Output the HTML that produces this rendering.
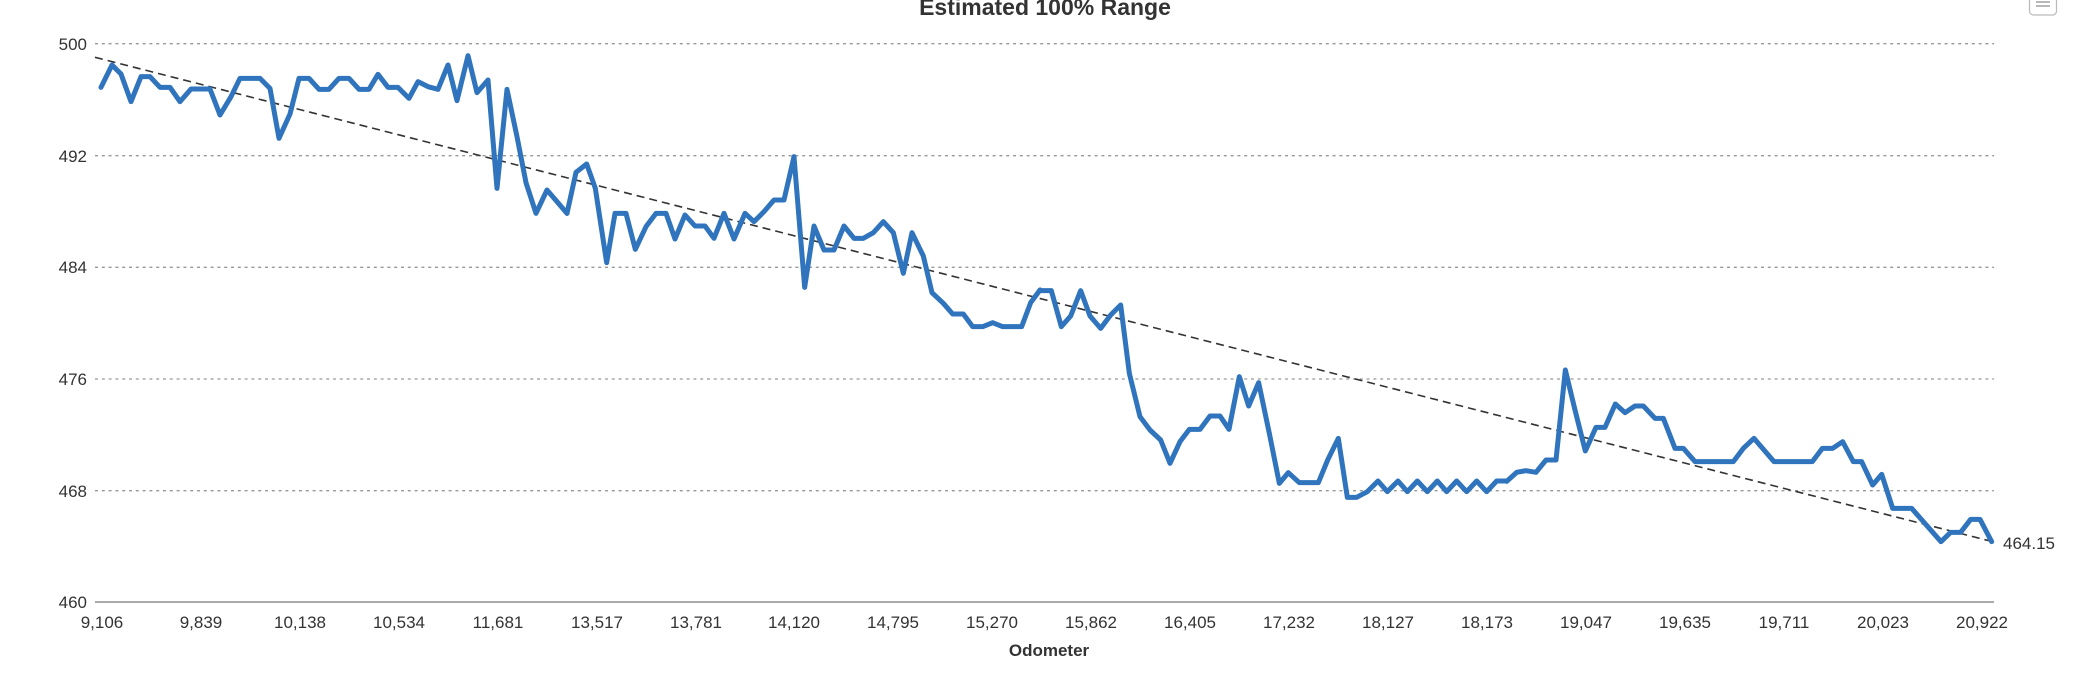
<!DOCTYPE html>
<html><head><meta charset="utf-8"><style>
html,body{margin:0;padding:0;background:#fff;}
svg{display:block;font-family:"Liberation Sans",sans-serif;}
</style></head><body>
<svg width="2098" height="676" viewBox="0 0 2098 676" xmlns="http://www.w3.org/2000/svg">
<rect width="2098" height="676" fill="#fff"/>
<text x="1045" y="15" text-anchor="middle" font-size="23" font-weight="bold" fill="#333">Estimated 100% Range</text>
<rect x="2029.5" y="-6" width="27" height="21" rx="4" fill="#fff" stroke="#bbb" stroke-width="1.2"/>
<line x1="2036" y1="2" x2="2050" y2="2" stroke="#888" stroke-width="1.2"/>
<line x1="2036" y1="6" x2="2050" y2="6" stroke="#888" stroke-width="1.2"/>
<g stroke="#999" stroke-width="1.3" stroke-dasharray="3,3.8">
<line x1="95" y1="43.7" x2="1994" y2="43.7"/>
<line x1="95" y1="155.7" x2="1994" y2="155.7"/>
<line x1="95" y1="267.3" x2="1994" y2="267.3"/>
<line x1="95" y1="379" x2="1994" y2="379"/>
<line x1="95" y1="490.7" x2="1994" y2="490.7"/>
</g>
<line x1="95" y1="602" x2="1994" y2="602" stroke="#aaa" stroke-width="2"/>
<g font-size="17" fill="#333" text-anchor="end">
<text x="87" y="50">500</text>
<text x="87" y="162">492</text>
<text x="87" y="273">484</text>
<text x="87" y="385">476</text>
<text x="87" y="497">468</text>
<text x="87" y="608">460</text>
</g>
<g font-size="17" fill="#333" text-anchor="middle">
<text x="102" y="628">9,106</text>
<text x="201" y="628">9,839</text>
<text x="300" y="628">10,138</text>
<text x="399" y="628">10,534</text>
<text x="498" y="628">11,681</text>
<text x="597" y="628">13,517</text>
<text x="696" y="628">13,781</text>
<text x="794" y="628">14,120</text>
<text x="893" y="628">14,795</text>
<text x="992" y="628">15,270</text>
<text x="1091" y="628">15,862</text>
<text x="1190" y="628">16,405</text>
<text x="1289" y="628">17,232</text>
<text x="1388" y="628">18,127</text>
<text x="1487" y="628">18,173</text>
<text x="1586" y="628">19,047</text>
<text x="1685" y="628">19,635</text>
<text x="1784" y="628">19,711</text>
<text x="1883" y="628">20,023</text>
<text x="1982" y="628">20,922</text>
</g>
<text x="1049" y="656" text-anchor="middle" font-size="17" font-weight="bold" fill="#333">Odometer</text>
<line x1="95" y1="57.3" x2="1994" y2="542" stroke="#333" stroke-width="1.6" stroke-dasharray="8,5"/>
<g fill="none" stroke="#2f74bd" stroke-width="15" stroke-linejoin="round" stroke-linecap="round">
<polyline transform="translate(90,40) scale(0.33333)" points="33,142 66,75 93,102 123,185 153,110 180,110 210,142 240,142 270,185 303,147 360,147 390,225 423,170 450,115 510,115 540,145 567,295 600,222 627,115 657,115 687,148 717,148 747,115 777,115 807,148 837,148 864,103 894,142 924,142 957,175 984,125 1014,140 1044,148 1074,75 1101,182 1134,47 1161,158 1194,120 1221,445 1251,148 1281,290 1308,428 1338,520 1371,450 1401,485 1431,520"/>
<polyline transform="translate(560,120) scale(0.33333)" points="21,280 48,157 80,132 106,205 140,428 165,280 198,280 226,388 258,320 288,280 318,280 345,357 375,285 405,318 435,318 462,355 492,280 522,357 555,280 582,305 612,275 642,240 672,240 702,110 734,502 762,318 792,390 822,390 852,318 882,355 910,355 940,338 970,305 1000,338 1030,460 1056,338 1090,408 1116,518 1150,550 1178,582 1210,582 1238,620 1268,620 1298,608 1328,620 1385,620 1412,548 1440,510"/>
<polyline transform="translate(1030,260) scale(0.33333)" points="30,90 36,92 64,92 94,200 122,168 152,92 180,168 212,205 242,165 272,135 298,340 330,470 360,510 392,540 420,610 450,545 478,508 510,508 540,468 570,468 597,508 628,350 656,438 686,368 718,520 748,670 775,638 808,668 865,668 893,600 925,535 952,712 980,712 1012,695 1044,663 1072,695 1104,663 1132,695 1162,663 1192,695 1222,663 1250,695 1280,663 1310,695 1340,663 1370,695 1400,663 1430,663"/>
<polyline transform="translate(1500,340) scale(0.33333)" points="20,424 50,397 78,392 108,397 138,360 168,360 196,90 225,210 256,333 288,262 315,262 346,192 375,218 405,198 430,198 465,235 490,235 525,325 550,325 585,365 700,365 730,325 762,295 792,330 822,365 937,365 967,325 998,325 1028,305 1060,365 1085,365 1118,435 1145,403 1178,505 1235,505 1270,545 1323,605 1352,577 1382,577 1412,538 1440,538 1475,605"/>
</g>
<text x="2003" y="549" font-size="17" fill="#333">464.15</text>
</svg>
</body></html>
